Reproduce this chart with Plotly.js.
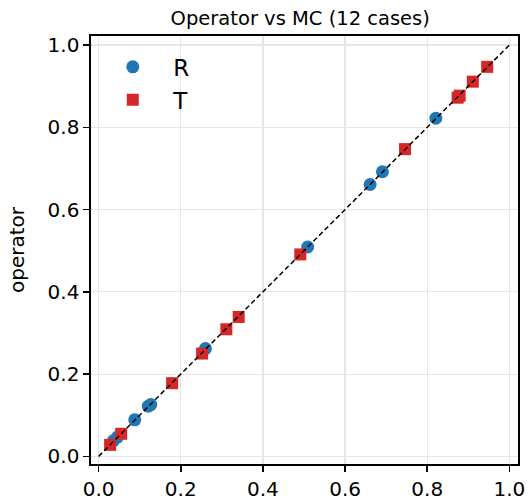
<!DOCTYPE html>
<html>
<head>
<meta charset="utf-8">
<script src="https://cdn.plot.ly/plotly-3.0.1.min.js"></script>
<style>html,body{margin:0;padding:0;background:#fff;}#chart{width:530px;height:501px;}</style>
</head>
<body>
<div id="chart"></div>
<script>
// Reflectance (R) cases: MC value vs operator value
const R_mc = [0.036, 0.046, 0.088, 0.121, 0.127, 0.260, 0.509, 0.661, 0.691, 0.821];
const R_op = [0.038, 0.047, 0.089, 0.122, 0.126, 0.262, 0.509, 0.661, 0.692, 0.822];
// Transmittance (T) cases
const T_mc = [0.028, 0.055, 0.179, 0.252, 0.311, 0.341, 0.491, 0.746, 0.874, 0.879, 0.911, 0.946];
const T_op = [0.028, 0.055, 0.178, 0.250, 0.309, 0.339, 0.491, 0.747, 0.872, 0.877, 0.911, 0.947];
// identity reference line
const diag = [0, 1];
const tickVals = [0, 0.2, 0.4, 0.6, 0.8, 1.0];
const tickText = ["0.0", "0.2", "0.4", "0.6", "0.8", "1.0"];

const font = "DejaVu Sans, sans-serif";

const traces = [
  {x: R_mc, y: R_op, mode: "markers", type: "scatter", name: "R",
   marker: {symbol: "circle", size: 13, color: "#1f77b4", line: {width: 0}}},
  {x: T_mc, y: T_op, mode: "markers", type: "scatter", name: "T",
   marker: {symbol: "square", size: 12, color: "#d62728", line: {width: 0}}},
  {x: diag, y: diag, mode: "lines", type: "scatter", showlegend: false,
   line: {color: "#000", width: 1.5, dash: "5px,3px"}}
];

const axisCommon = {
  showline: true, mirror: true, linecolor: "#000", linewidth: 1.6,
  ticks: "outside", ticklen: 6, tickwidth: 1.5, tickcolor: "#000",
  tickvals: tickVals, ticktext: tickText,
  showgrid: true, gridcolor: "#e6e6e6", gridwidth: 1.2,
  zeroline: false, tickfont: {family: font, size: 20, color: "#000"}
};

const layout = {
  width: 530, height: 501,
  margin: {l: 91, r: 12, t: 36, b: 37},
  paper_bgcolor: "#fff", plot_bgcolor: "#fff",
  font: {family: font, color: "#000"},
  title: {text: "Operator vs MC (12 cases)", font: {family: font, size: 19.5, color: "#000"},
          x: 0.49, xref: "paper", y: 1 - 18/501, yref: "container", yanchor: "middle"},
  xaxis: Object.assign({}, axisCommon, {range: [-0.0185, 1.021]}),
  yaxis: Object.assign({}, axisCommon, {range: [-0.0185, 1.022],
          title: {text: "operator", font: {family: font, size: 20, color: "#000"}, standoff: 17}}),
  legend: {x: 0.003, y: 0.978, xanchor: "left", yanchor: "top", bgcolor: "rgba(0,0,0,0)",
           font: {family: font, size: 23, color: "#000"}, itemwidth: 71, tracegroupgap: 0},
  showlegend: true
};

Plotly.newPlot("chart", traces, layout, {displayModeBar: false, staticPlot: true});
</script>
</body>
</html>
